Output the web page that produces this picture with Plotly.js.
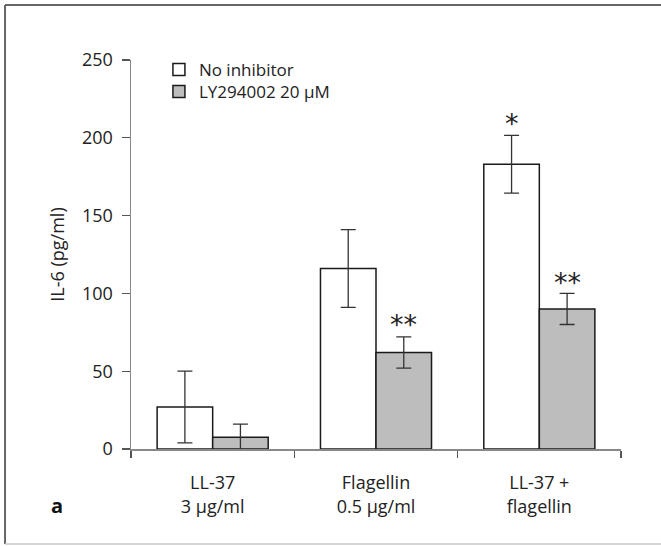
<!DOCTYPE html>
<html>
<head>
<meta charset="utf-8">
<script src="https://cdn.plot.ly/plotly-3.0.1.min.js"></script>
<style>html,body{margin:0;padding:0;background:#fff;}#chart{width:661px;height:546px;}</style>
</head>
<body>
<div id="chart"></div>
<script>
const categories = ["LL-37<br>3 μg/ml", "Flagellin<br>0.5 μg/ml", "LL-37 +<br>flagellin"];
const seriesNames = ["No inhibitor", "LY294002 20 μM"];
const noInhibitor = [27, 116, 183];
const noInhibitorErr = [23, 25, 18.5];
const ly294002 = [7.5, 62, 90];
const ly294002Err = [8.5, 10, 10];
const yTicks = [0, 50, 100, 150, 200, 250];
// significance marks: [category index, series index (0/1), y level, text]
const sigMarks = [[1, 1, 80, "**"], [2, 0, 209, "*"], [2, 1, 107, "**"]];

const FONT = "'Open Sans', 'Liberation Sans', sans-serif";
const FS = 18;
const common = {
  type: "bar",
  x: categories,
  error_y: {type: "data", visible: true, color: "#333", thickness: 1.3, width: 7.5}
};
const traces = [
  Object.assign({}, common, {name: seriesNames[0], y: noInhibitor, legend: "legend",
    marker: {color: "#ffffff", line: {color: "#1a1a1a", width: 1.5}},
    error_y: Object.assign({}, common.error_y, {array: noInhibitorErr})}),
  Object.assign({}, common, {name: seriesNames[1], y: ly294002, legend: "legend2",
    marker: {color: "#bdbdbd", line: {color: "#1a1a1a", width: 1.5}},
    error_y: Object.assign({}, common.error_y, {array: ly294002Err})})
];

const bargap = 0.32;
const half = (1 - bargap) / 4;
const annotations = sigMarks.map(m => ({
  x: m[0] + (m[1] === 0 ? -half : half), y: m[2], xref: "x", yref: "y",
  text: m[3], showarrow: false, font: {family: "'DejaVu Sans', sans-serif", size: 27, color: "#222"},
  yanchor: "middle"
}));
annotations.push({x: -0.168, y: -0.186, xref: "paper", yref: "paper", text: "<b>a</b>",
  showarrow: false, font: {family: FONT, size: 20, color: "#111"}});

const legendBase = {x: 0.057, xanchor: "left", yanchor: "top", bgcolor: "rgba(0,0,0,0)",
  font: {family: FONT, size: 17, color: "#222"}, tracegroupgap: 0, itemwidth: 30};

const layout = {
  width: 661, height: 546,
  margin: {l: 131, r: 40, t: 60, b: 97},
  paper_bgcolor: "#fff", plot_bgcolor: "#fff",
  font: {family: FONT, size: FS, color: "#222"},
  barmode: "group", bargap: bargap, bargroupgap: 0,
  showlegend: true,
  legend: Object.assign({}, legendBase, {y: 1.0206}),
  legend2: Object.assign({}, legendBase, {y: 0.964}),
  xaxis: {type: "category", tickson: "boundaries", ticks: "outside", ticklen: 7, tickwidth: 1.3,
    tickcolor: "#555", showline: true, linecolor: "#888", linewidth: 1.5, showgrid: false,
    zeroline: false, ticklabelstandoff: 17, tickfont: {family: FONT, size: FS, color: "#222"},
    fixedrange: true},
  yaxis: {range: [0, 250], tickvals: yTicks, ticks: "outside", ticklen: 8, tickwidth: 1.3,
    tickcolor: "#555", showline: true, linecolor: "#888", linewidth: 1.5, showgrid: false,
    zeroline: false, ticklabelstandoff: 5, tickfont: {family: FONT, size: FS, color: "#222"},
    title: {text: "IL-6 (pg/ml)", standoff: 12, font: {family: FONT, size: FS, color: "#222"}},
    fixedrange: true},
  annotations: annotations,
  shapes: [
    {type: "line", xref: "paper", yref: "paper", x0: -0.2571, x1: 1.09, y0: 1.1414, y1: 1.1414,
      line: {color: "#666", width: 2}},
    {type: "line", xref: "paper", yref: "paper", x0: -0.2571, x1: -0.2571, y0: 1.1414, y1: -0.2442,
      line: {color: "#666", width: 2}},
    {type: "line", xref: "paper", yref: "paper", x0: -0.2571, x1: 1.09, y0: -0.2442, y1: -0.2442,
      line: {color: "#c8c8c8", width: 1.5}}
  ]
};
Plotly.newPlot("chart", traces, layout, {displayModeBar: false, staticPlot: true});
</script>
</body>
</html>
